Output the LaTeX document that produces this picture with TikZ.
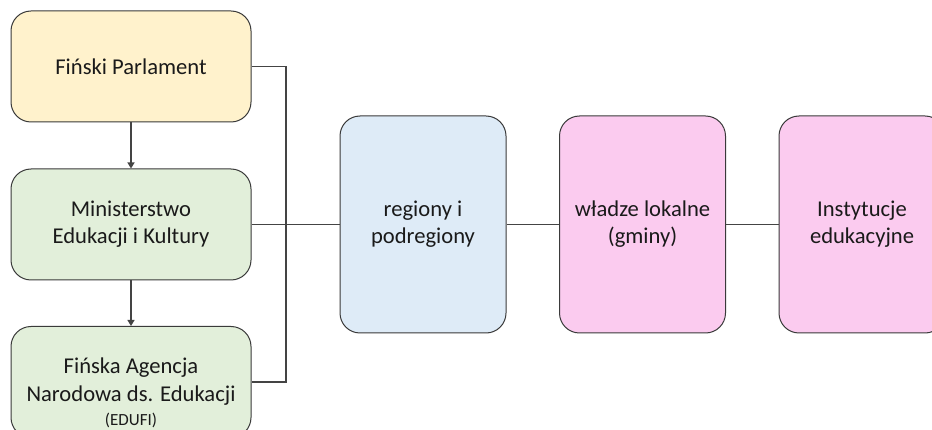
\documentclass[tikz,border=0pt]{standalone}
\usepackage{fontspec}
\setmainfont{Carlito}
\usetikzlibrary{arrows.meta}
\definecolor{cyellow}{HTML}{FFF2CC}
\definecolor{cgreen}{HTML}{E2EFDA}
\definecolor{cblue}{HTML}{DEEBF7}
\definecolor{cpink}{HTML}{FBCBEF}
\definecolor{cedge}{HTML}{3A3A3A}
\definecolor{cline}{HTML}{444444}
\definecolor{ctext}{HTML}{1A1A1A}
\tikzset{
  boxstyle/.style={draw=cedge, line width=1pt, rounded corners=20pt, inner sep=0pt,
    text=ctext, align=center, font=\fontsize{22.6}{27}\selectfont},
  leftbox/.style={boxstyle, minimum width=240pt, minimum height=111pt},
  tallbox/.style={boxstyle, minimum width=166pt, minimum height=217pt},
  link/.style={draw=cline, line width=1.2pt},
  arrowlink/.style={link, -{Triangle[length=6pt,width=7pt]}},
  lbl/.style={text=ctext, align=center, inner sep=0pt}
}
\begin{document}
\begin{tikzpicture}[x=1pt,y=-1pt]
\useasboundingbox (0,0) rectangle (932,430);
\clip (0,0) rectangle (932,430);
\fill[white] (0,0) rectangle (932,430);
\node[leftbox, fill=cyellow] (b1) at (131,66.5) {Fiński Parlament};
\node[leftbox, fill=cgreen] (b2) at (131,224.5) {Ministerstwo\\Edukacji i Kultury};
\node[leftbox, fill=cgreen] (b3) at (131,382) {};
\node[lbl, font=\fontsize{22.6}{28}\selectfont] (t3) at (131,382) {Fińska Agencja\\Narodowa ds. Edukacji};
\node[lbl, font=\fontsize{17}{20}\selectfont] (t3b) at (131,420) {(EDUFI)};
\node[tallbox, fill=cblue] (r) at (423,224.5) {regiony i\\podregiony};
\node[tallbox, fill=cpink] (w) at (642.5,224.5) {władze lokalne\\(gminy)};
\node[tallbox, fill=cpink] (e) at (862,224.5) {Instytucje\\edukacyjne};
\coordinate (br) at (286,224.5);
\draw[arrowlink] (b1.south) -- (b2.north);
\draw[arrowlink] (b2.south) -- (b3.north);
\draw[link] (b1.east) -| (br) |- (b3.east);
\draw[link] (b2.east) -- (r.west);
\draw[link] (r.east) -- (w.west);
\draw[link] (w.east) -- (e.west);
\end{tikzpicture}
\end{document}
